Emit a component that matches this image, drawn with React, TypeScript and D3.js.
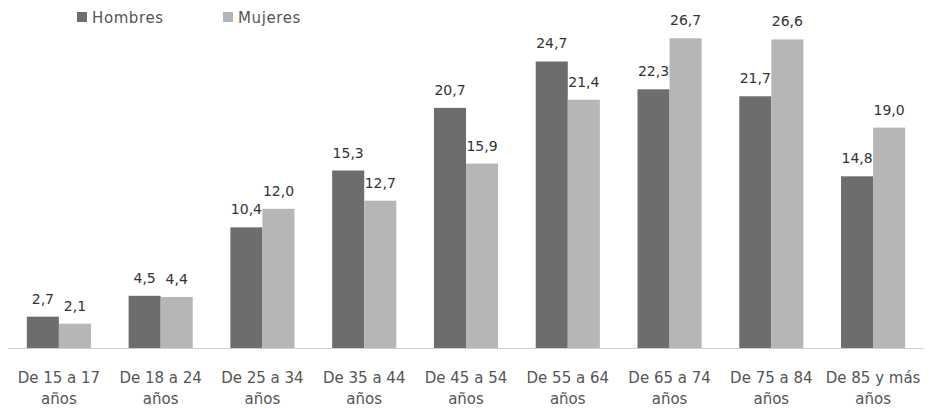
import React from "react";
import * as d3 from "d3";

const categories = [
  ["De 15 a 17", "años"],
  ["De 18 a 24", "años"],
  ["De 25 a 34", "años"],
  ["De 35 a 44", "años"],
  ["De 45 a 54", "años"],
  ["De 55 a 64", "años"],
  ["De 65 a 74", "años"],
  ["De 75 a 84", "años"],
  ["De 85 y más", "años"],
];
const hombres = [2.7, 4.5, 10.4, 15.3, 20.7, 24.7, 22.3, 21.7, 14.8];
const mujeres = [2.1, 4.4, 12.0, 12.7, 15.9, 21.4, 26.7, 26.6, 19.0];
const seriesNames = ["Hombres", "Mujeres"];
const colors = ["#6d6d6d", "#b6b6b6"];

const W = 930;
const H = 408;
const baseline = 348;
const fmt = (v: number) => v.toFixed(1).replace(".", ",");

export default function App() {
  const keys = categories.map((c) => c.join(" "));
  const x = d3.scaleBand<string>().domain(keys).range([8, 924]).paddingInner(0.37).paddingOuter(0.185);
  const x1 = d3.scaleBand<string>().domain(seriesNames).range([0, x.bandwidth()]);
  const y = d3.scaleLinear().domain([0, 30]).range([baseline, baseline - 30 * 11.6]);
  const data = [hombres, mujeres];
  const font = "'DejaVu Sans', Verdana, sans-serif";
  return (
    <svg width={W} height={H} style={{ position: "absolute", left: 0, top: 0 }} fontFamily={font}>
      <rect width={W} height={H} fill="#ffffff" />
      {/* legend */}
      <g>
        <rect x={77} y={12} width={10} height={10} fill={colors[0]} />
        <text x={92} y={23} fontSize={15} letterSpacing={0.6} fill="#555">Hombres</text>
        <rect x={223} y={12} width={10} height={10} fill={colors[1]} />
        <text x={238} y={23} fontSize={15} letterSpacing={0.6} fill="#555">Mujeres</text>
      </g>
      {keys.map((k, i) => (
        <g key={k} transform={`translate(${x(k)},0)`}>
          {seriesNames.map((s, j) => {
            const v = data[j][i];
            const bx = x1(s)!;
            return (
              <g key={s}>
                <rect x={bx} y={y(v)} width={x1.bandwidth()} height={baseline - y(v)} fill={colors[j]} />
                <text x={bx + x1.bandwidth() / 2} y={y(v) - 13} fontSize={14} textAnchor="middle" fill="#333">
                  {fmt(v)}
                </text>
              </g>
            );
          })}
        </g>
      ))}
      <line x1={8} x2={924} y1={baseline + 0.5} y2={baseline + 0.5} stroke="#d0d0d0" strokeWidth={1} />
      {keys.map((k, i) => (
        <text key={k} textAnchor="middle" fontSize={15} fill="#555">
          <tspan x={x(k)! + x.bandwidth() / 2} y={383}>{categories[i][0]}</tspan>
          <tspan x={x(k)! + x.bandwidth() / 2} y={404}>{categories[i][1]}</tspan>
        </text>
      ))}
    </svg>
  );
}
